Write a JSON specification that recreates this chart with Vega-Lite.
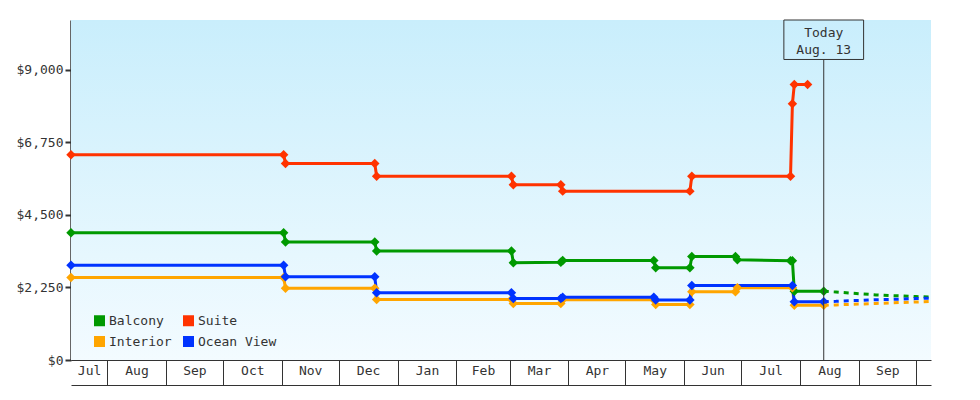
{
  "$schema": "https://vega.github.io/schema/vega-lite/v6.json",
  "width": 860,
  "height": 340,
  "autosize": {"type": "none"},
  "padding": {"left": 71, "top": 20, "right": 49, "bottom": 40},
  "background": "#ffffff",
  "config": {
    "font": "DejaVu Sans Mono",
    "view": {"stroke": null},
    "axis": {"labelFont": "DejaVu Sans Mono", "labelFontSize": 13, "labelColor": "#333333", "grid": false, "title": null},
    "legend": {
      "orient": "none", "legendX": 22, "legendY": 294, "columns": 2, "direction": "horizontal", "padding": 0,
      "symbolType": "square", "symbolSize": 121, "symbolStrokeWidth": 0, "symbolOpacity": 1,
      "labelFont": "DejaVu Sans Mono", "labelFontSize": 13, "labelColor": "#333333",
      "columnPadding": 10, "rowPadding": 7, "labelOffset": 3
    }
  },
  "data": {
    "values": [
      {"d": "2022-07-13", "s": "Balcony", "p": 3950, "k": "a"},
      {"d": "2022-11-02", "s": "Balcony", "p": 3950, "k": "a"},
      {"d": "2022-11-03", "s": "Balcony", "p": 3660, "k": "a"},
      {"d": "2022-12-20", "s": "Balcony", "p": 3660, "k": "a"},
      {"d": "2022-12-21", "s": "Balcony", "p": 3380, "k": "a"},
      {"d": "2023-03-02", "s": "Balcony", "p": 3380, "k": "a"},
      {"d": "2023-03-03", "s": "Balcony", "p": 3020, "k": "a"},
      {"d": "2023-03-28", "s": "Balcony", "p": 3030, "k": "a"},
      {"d": "2023-03-29", "s": "Balcony", "p": 3090, "k": "a"},
      {"d": "2023-05-16", "s": "Balcony", "p": 3090, "k": "a"},
      {"d": "2023-05-17", "s": "Balcony", "p": 2860, "k": "a"},
      {"d": "2023-06-04", "s": "Balcony", "p": 2860, "k": "a"},
      {"d": "2023-06-05", "s": "Balcony", "p": 3210, "k": "a"},
      {"d": "2023-06-28", "s": "Balcony", "p": 3210, "k": "a"},
      {"d": "2023-06-29", "s": "Balcony", "p": 3110, "k": "a"},
      {"d": "2023-07-27", "s": "Balcony", "p": 3080, "k": "a"},
      {"d": "2023-07-28", "s": "Balcony", "p": 3080, "k": "a"},
      {"d": "2023-07-29", "s": "Balcony", "p": 2130, "k": "a"},
      {"d": "2023-08-13T12:00:00Z", "s": "Balcony", "p": 2130, "k": "a"},
      {"d": "2022-07-13", "s": "Suite", "p": 6370, "k": "a"},
      {"d": "2022-11-02", "s": "Suite", "p": 6370, "k": "a"},
      {"d": "2022-11-03", "s": "Suite", "p": 6100, "k": "a"},
      {"d": "2022-12-20", "s": "Suite", "p": 6100, "k": "a"},
      {"d": "2022-12-21", "s": "Suite", "p": 5700, "k": "a"},
      {"d": "2023-03-02", "s": "Suite", "p": 5700, "k": "a"},
      {"d": "2023-03-03", "s": "Suite", "p": 5440, "k": "a"},
      {"d": "2023-03-28", "s": "Suite", "p": 5440, "k": "a"},
      {"d": "2023-03-29", "s": "Suite", "p": 5240, "k": "a"},
      {"d": "2023-06-04", "s": "Suite", "p": 5240, "k": "a"},
      {"d": "2023-06-05", "s": "Suite", "p": 5700, "k": "a"},
      {"d": "2023-07-27", "s": "Suite", "p": 5700, "k": "a"},
      {"d": "2023-07-28", "s": "Suite", "p": 7950, "k": "a"},
      {"d": "2023-07-29", "s": "Suite", "p": 8550, "k": "a"},
      {"d": "2023-08-05", "s": "Suite", "p": 8550, "k": "a"},
      {"d": "2022-07-13", "s": "Interior", "p": 2560, "k": "a"},
      {"d": "2022-11-02", "s": "Interior", "p": 2560, "k": "a"},
      {"d": "2022-11-03", "s": "Interior", "p": 2230, "k": "a"},
      {"d": "2022-12-20", "s": "Interior", "p": 2230, "k": "a"},
      {"d": "2022-12-21", "s": "Interior", "p": 1880, "k": "a"},
      {"d": "2023-03-02", "s": "Interior", "p": 1880, "k": "a"},
      {"d": "2023-03-03", "s": "Interior", "p": 1750, "k": "a"},
      {"d": "2023-03-28", "s": "Interior", "p": 1750, "k": "a"},
      {"d": "2023-03-29", "s": "Interior", "p": 1870, "k": "a"},
      {"d": "2023-05-16", "s": "Interior", "p": 1870, "k": "a"},
      {"d": "2023-05-17", "s": "Interior", "p": 1720, "k": "a"},
      {"d": "2023-06-04", "s": "Interior", "p": 1720, "k": "a"},
      {"d": "2023-06-05", "s": "Interior", "p": 2120, "k": "a"},
      {"d": "2023-06-28", "s": "Interior", "p": 2120, "k": "a"},
      {"d": "2023-06-29", "s": "Interior", "p": 2240, "k": "a"},
      {"d": "2023-07-28", "s": "Interior", "p": 2240, "k": "a"},
      {"d": "2023-07-29", "s": "Interior", "p": 1700, "k": "a"},
      {"d": "2023-08-13T12:00:00Z", "s": "Interior", "p": 1700, "k": "a"},
      {"d": "2022-07-13", "s": "Ocean View", "p": 2940, "k": "a"},
      {"d": "2022-11-02", "s": "Ocean View", "p": 2940, "k": "a"},
      {"d": "2022-11-03", "s": "Ocean View", "p": 2580, "k": "a"},
      {"d": "2022-12-20", "s": "Ocean View", "p": 2580, "k": "a"},
      {"d": "2022-12-21", "s": "Ocean View", "p": 2090, "k": "a"},
      {"d": "2023-03-02", "s": "Ocean View", "p": 2090, "k": "a"},
      {"d": "2023-03-03", "s": "Ocean View", "p": 1910, "k": "a"},
      {"d": "2023-03-28", "s": "Ocean View", "p": 1910, "k": "a"},
      {"d": "2023-03-29", "s": "Ocean View", "p": 1950, "k": "a"},
      {"d": "2023-05-16", "s": "Ocean View", "p": 1950, "k": "a"},
      {"d": "2023-05-17", "s": "Ocean View", "p": 1860, "k": "a"},
      {"d": "2023-06-04", "s": "Ocean View", "p": 1860, "k": "a"},
      {"d": "2023-06-05", "s": "Ocean View", "p": 2310, "k": "a"},
      {"d": "2023-07-28", "s": "Ocean View", "p": 2310, "k": "a"},
      {"d": "2023-07-29", "s": "Ocean View", "p": 1810, "k": "a"},
      {"d": "2023-08-13T12:00:00Z", "s": "Ocean View", "p": 1810, "k": "a"},
      {"d": "2023-08-13T12:00:00Z", "s": "Balcony", "p": 2130, "k": "f"},
      {"d": "2023-08-20", "s": "Balcony", "p": 2110, "k": "f"},
      {"d": "2023-08-27", "s": "Balcony", "p": 2080, "k": "f"},
      {"d": "2023-09-03", "s": "Balcony", "p": 2050, "k": "f"},
      {"d": "2023-09-10", "s": "Balcony", "p": 2020, "k": "f"},
      {"d": "2023-09-17", "s": "Balcony", "p": 2000, "k": "f"},
      {"d": "2023-09-24", "s": "Balcony", "p": 1990, "k": "f"},
      {"d": "2023-10-01", "s": "Balcony", "p": 1970, "k": "f"},
      {"d": "2023-10-09", "s": "Balcony", "p": 1950, "k": "f"},
      {"d": "2023-08-13T12:00:00Z", "s": "Interior", "p": 1700, "k": "f"},
      {"d": "2023-08-20", "s": "Interior", "p": 1710, "k": "f"},
      {"d": "2023-08-27", "s": "Interior", "p": 1725, "k": "f"},
      {"d": "2023-09-03", "s": "Interior", "p": 1740, "k": "f"},
      {"d": "2023-09-10", "s": "Interior", "p": 1755, "k": "f"},
      {"d": "2023-09-17", "s": "Interior", "p": 1770, "k": "f"},
      {"d": "2023-09-24", "s": "Interior", "p": 1785, "k": "f"},
      {"d": "2023-10-01", "s": "Interior", "p": 1800, "k": "f"},
      {"d": "2023-10-09", "s": "Interior", "p": 1815, "k": "f"},
      {"d": "2023-08-13T12:00:00Z", "s": "Ocean View", "p": 1810, "k": "f"},
      {"d": "2023-08-20", "s": "Ocean View", "p": 1820, "k": "f"},
      {"d": "2023-08-27", "s": "Ocean View", "p": 1840, "k": "f"},
      {"d": "2023-09-03", "s": "Ocean View", "p": 1850, "k": "f"},
      {"d": "2023-09-10", "s": "Ocean View", "p": 1870, "k": "f"},
      {"d": "2023-09-17", "s": "Ocean View", "p": 1880, "k": "f"},
      {"d": "2023-09-24", "s": "Ocean View", "p": 1890, "k": "f"},
      {"d": "2023-10-01", "s": "Ocean View", "p": 1905, "k": "f"},
      {"d": "2023-10-09", "s": "Ocean View", "p": 1920, "k": "f"}
    ]
  },
  "layer": [
    {
      "data": {"values": [{}]},
      "mark": {
        "type": "rect",
        "fill": {"gradient": "linear", "x1": 0, "y1": 0, "x2": 0, "y2": 1,
          "stops": [{"offset": 0, "color": "#c9eefc"}, {"offset": 1, "color": "#f3fbff"}]}
      },
      "encoding": {}
    },
    {
      "transform": [{"filter": "datum.k == 'a'"}],
      "mark": {"type": "line", "strokeWidth": 3, "point": {"shape": "diamond", "size": 90, "filled": true, "opacity": 1}},
      "encoding": {
        "x": {
          "field": "d", "type": "temporal",
          "scale": {"type": "utc", "domain": [{"year": 2022, "month": 7, "date": 13, "utc": true}, {"year": 2023, "month": 10, "date": 9, "utc": true}]},
          "axis": {
            "orient": "bottom",
            "values": [
              {"year": 2022, "month": 8, "date": 1, "utc": true},
              {"year": 2022, "month": 9, "date": 1, "utc": true},
              {"year": 2022, "month": 10, "date": 1, "utc": true},
              {"year": 2022, "month": 11, "date": 1, "utc": true},
              {"year": 2022, "month": 12, "date": 1, "utc": true},
              {"year": 2023, "month": 1, "date": 1, "utc": true},
              {"year": 2023, "month": 2, "date": 1, "utc": true},
              {"year": 2023, "month": 3, "date": 1, "utc": true},
              {"year": 2023, "month": 4, "date": 1, "utc": true},
              {"year": 2023, "month": 5, "date": 1, "utc": true},
              {"year": 2023, "month": 6, "date": 1, "utc": true},
              {"year": 2023, "month": 7, "date": 1, "utc": true},
              {"year": 2023, "month": 8, "date": 1, "utc": true},
              {"year": 2023, "month": 9, "date": 1, "utc": true},
              {"year": 2023, "month": 10, "date": 1, "utc": true}
            ],
            "labels": false, "ticks": true, "tickSize": 25, "tickColor": "#333333", "tickWidth": 1,
            "domain": true, "domainColor": "#333333", "domainWidth": 1, "title": null
          }
        },
        "y": {
          "field": "p", "type": "quantitative",
          "scale": {"domain": [0, 10550], "nice": false, "zero": true},
          "axis": {
            "orient": "left",
            "values": [0, 2250, 4500, 6750, 9000], "format": "$,.0f",
            "tickSize": 6, "tickWidth": 2, "tickColor": "#333333",
            "domainColor": "#333333", "domainWidth": 2.5, "labelPadding": 2, "title": null
          }
        },
        "color": {
          "field": "s", "type": "nominal",
          "scale": {"domain": ["Balcony", "Suite", "Interior", "Ocean View"], "range": ["#009900", "#ff3300", "#ffa500", "#0033ff"]},
          "legend": {"title": null}
        }
      }
    },
    {
      "transform": [{"filter": "datum.k == 'f'"}],
      "mark": {"type": "line", "strokeWidth": 3, "strokeDash": [5, 5]},
      "encoding": {
        "x": {
          "field": "d", "type": "temporal",
          "axis": {
            "orient": "bottom",
            "values": [
              {"year": 2022, "month": 7, "date": 22, "hours": 12, "utc": true},
              {"year": 2022, "month": 8, "date": 16, "hours": 12, "utc": true},
              {"year": 2022, "month": 9, "date": 16, "utc": true},
              {"year": 2022, "month": 10, "date": 16, "hours": 12, "utc": true},
              {"year": 2022, "month": 11, "date": 16, "utc": true},
              {"year": 2022, "month": 12, "date": 16, "hours": 12, "utc": true},
              {"year": 2023, "month": 1, "date": 16, "hours": 12, "utc": true},
              {"year": 2023, "month": 2, "date": 15, "utc": true},
              {"year": 2023, "month": 3, "date": 16, "hours": 12, "utc": true},
              {"year": 2023, "month": 4, "date": 16, "utc": true},
              {"year": 2023, "month": 5, "date": 16, "hours": 12, "utc": true},
              {"year": 2023, "month": 6, "date": 16, "utc": true},
              {"year": 2023, "month": 7, "date": 16, "hours": 12, "utc": true},
              {"year": 2023, "month": 8, "date": 16, "hours": 12, "utc": true},
              {"year": 2023, "month": 9, "date": 16, "utc": true}
            ],
            "labelExpr": "utcFormat(datum.value, '%b')",
            "ticks": false, "domain": false, "labelPadding": 4, "labelFlush": false, "labelOverlap": false, "title": null
          }
        },
        "y": {"field": "p", "type": "quantitative", "axis": null},
        "color": {"field": "s", "type": "nominal"}
      }
    },
    {
      "data": {"values": [{}]},
      "mark": {"type": "rule", "color": "#333333", "strokeWidth": 1},
      "encoding": {
        "x": {
          "datum": {"year": 2023, "month": 8, "date": 13, "hours": 12, "utc": true}, "type": "temporal",
          "axis": {"orient": "bottom", "offset": 25, "labels": false, "ticks": false, "domain": true, "domainColor": "#333333", "domainWidth": 1, "title": null}
        },
        "y": {"datum": 0, "type": "quantitative", "axis": null},
        "y2": {"datum": 9325}
      }
    },
    {
      "data": {"values": [{}]},
      "mark": {"type": "rect", "fill": "#ffffff", "fillOpacity": 0, "stroke": "#333333", "strokeWidth": 1},
      "encoding": {
        "x": {"datum": {"year": 2023, "month": 7, "date": 23, "hours": 12, "utc": true}, "type": "temporal", "axis": null},
        "x2": {"datum": {"year": 2023, "month": 9, "date": 3, "hours": 12, "utc": true}},
        "y": {"datum": 9325, "type": "quantitative", "axis": null},
        "y2": {"datum": 10550}
      }
    },
    {
      "data": {"values": [{}]},
      "mark": {"type": "text", "text": ["Today", "Aug. 13"], "lineHeight": 17, "baseline": "middle", "align": "center", "fontSize": 13, "font": "DejaVu Sans Mono", "color": "#333333"},
      "encoding": {
        "x": {"datum": {"year": 2023, "month": 8, "date": 13, "hours": 12, "utc": true}, "type": "temporal", "axis": null},
        "y": {"datum": 10135, "type": "quantitative", "axis": null}
      }
    }
  ],
  "resolve": {"axis": {"x": "independent", "y": "independent"}}
}
